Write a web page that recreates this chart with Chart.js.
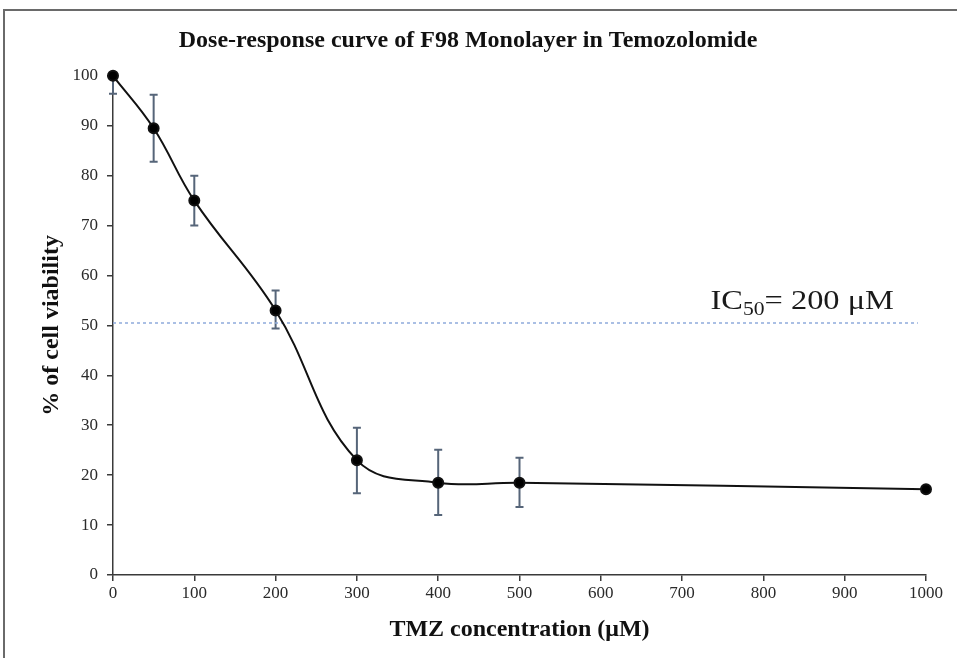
<!DOCTYPE html>
<html>
<head>
<meta charset="utf-8">
<script src="https://cdn.jsdelivr.net/npm/chart.js@4.4.1/dist/chart.umd.min.js"></script>
<style>
  html, body { margin: 0; padding: 0; background: #fff; }
  #wrap { width: 957px; height: 658px; position: relative; }
</style>
</head>
<body>
<div id="wrap"><canvas id="chart" width="957" height="658"></canvas></div>
<script>
// --- данные ---
const concentrations = [0, 50, 100, 200, 300, 400, 500, 1000];
const viability = [100, 89.5, 75, 53, 23, 18.5, 18.5, 17.2];
const errorLow = [96.4, 82.8, 70, 49.4, 16.4, 12, 13.6, null];
const errorHigh = [100, 96.2, 80, 57, 29.5, 25.1, 23.5, null];
const xTicks = [0, 100, 200, 300, 400, 500, 600, 700, 800, 900, 1000];
const yTicks = [0, 10, 20, 30, 40, 50, 60, 70, 80, 90, 100];
const ic50Level = 50.5;
const ic50Span = [0, 990];

const serif = '"Liberation Serif", "DejaVu Serif", serif';
const axisColor = '#3a3a3a';

// рамка вокруг рисунка
const framePlugin = {
    id: 'frame',
    beforeDraw(chart) {
        const ctx = chart.ctx;
        ctx.save();
        ctx.strokeStyle = '#6a6a6a';
        ctx.lineWidth = 2;
        ctx.strokeRect(4, 10, 970, 680);
        ctx.restore();
    }
};

// планки погрешностей
const errorBarPlugin = {
    id: 'errorBars',
    beforeDatasetsDraw(chart) {
        const { ctx, scales: { x, y } } = chart;
        ctx.save();
        ctx.strokeStyle = '#566579';
        ctx.lineWidth = 2;
        concentrations.forEach((c, i) => {
            if (errorLow[i] == null) return;
            const px = x.getPixelForValue(c);
            const top = y.getPixelForValue(errorHigh[i]);
            const bot = y.getPixelForValue(errorLow[i]);
            ctx.beginPath();
            ctx.moveTo(px, top); ctx.lineTo(px, bot);
            ctx.moveTo(px - 4, top); ctx.lineTo(px + 4, top);
            ctx.moveTo(px - 4, bot); ctx.lineTo(px + 4, bot);
            ctx.stroke();
        });
        ctx.restore();
    }
};

// подпись IC50 (шрифт в оригинале чуть растянут по ширине)
const ic50LabelPlugin = {
    id: 'ic50Label',
    afterDatasetsDraw(chart) {
        const { ctx, scales: { x, y } } = chart;
        const base = y.getPixelForValue(ic50Level) - 14;
        const startX = x.getPixelForValue(735);
        ctx.save();
        ctx.translate(startX, base);
        ctx.scale(1.2, 1);
        ctx.fillStyle = '#1a1a1a';
        ctx.textBaseline = 'alphabetic';
        let px = 0;
        ctx.font = `27px ${serif}`;
        ctx.fillText('IC', px, 0);
        px += ctx.measureText('IC').width;
        ctx.font = `18px ${serif}`;
        ctx.fillText('50', px, 6);
        px += ctx.measureText('50').width;
        ctx.font = `27px ${serif}`;
        ctx.fillText('= 200 μM', px, 0);
        ctx.restore();
    }
};

new Chart(document.getElementById('chart'), {
    type: 'line',
    data: {
        datasets: [
            {
                label: 'Viability',
                data: concentrations.map((c, i) => ({ x: c, y: viability[i] })),
                borderColor: '#111',
                borderWidth: 2,
                backgroundColor: '#000',
                pointRadius: 5,
                pointHoverRadius: 5,
                tension: 0.4,
                fill: false,
                clip: false
            },
            {
                label: 'IC50',
                data: ic50Span.map(c => ({ x: c, y: ic50Level })),
                borderColor: '#8eaadb',
                borderWidth: 1.5,
                borderDash: [3, 3],
                pointRadius: 0,
                fill: false
            }
        ]
    },
    options: {
        responsive: false,
        animation: false,
        layout: { padding: { left: 10, right: 31, top: 0, bottom: 0 } },
        plugins: {
            legend: { display: false },
            tooltip: { enabled: false },
            title: {
                display: true,
                text: 'Dose-response curve of F98 Monolayer in Temozolomide',
                color: '#111',
                font: { family: serif, size: 24, weight: 'bold' },
                padding: { top: 26, bottom: 21 }
            }
        },
        scales: {
            x: {
                type: 'linear',
                min: 0,
                max: 1000,
                afterBuildTicks: s => { s.ticks = xTicks.map(v => ({ value: v })); },
                afterFit: s => { s.height = 83; },
                border: { color: axisColor, width: 1.5 },
                grid: { drawOnChartArea: false, color: axisColor, tickLength: 6, lineWidth: 1.5 },
                ticks: {
                    color: '#2a2a2a',
                    font: { family: serif, size: 17 },
                    padding: 2,
                    autoSkip: false,
                    maxRotation: 0,
                    callback: v => String(v)
                },
                title: {
                    display: true,
                    text: 'TMZ concentration (μM)',
                    color: '#111',
                    font: { family: serif, size: 24, weight: 'bold' },
                    padding: { top: 0, bottom: 14 }
                }
            },
            y: {
                min: 0,
                max: 100,
                afterBuildTicks: s => { s.ticks = yTicks.map(v => ({ value: v })); },
                afterFit: s => { s.width = 103; },
                border: { color: axisColor, width: 1.5 },
                grid: { drawOnChartArea: false, color: axisColor, tickLength: 6, lineWidth: 1.5 },
                ticks: { color: '#2a2a2a', font: { family: serif, size: 17 }, padding: 9 },
                title: {
                    display: true,
                    text: '% of cell viability',
                    color: '#111',
                    font: { family: serif, size: 24, weight: 'bold' },
                    padding: { top: 27, bottom: 0 }
                }
            }
        }
    },
    plugins: [framePlugin, errorBarPlugin, ic50LabelPlugin]
});
</script>
</body>
</html>
